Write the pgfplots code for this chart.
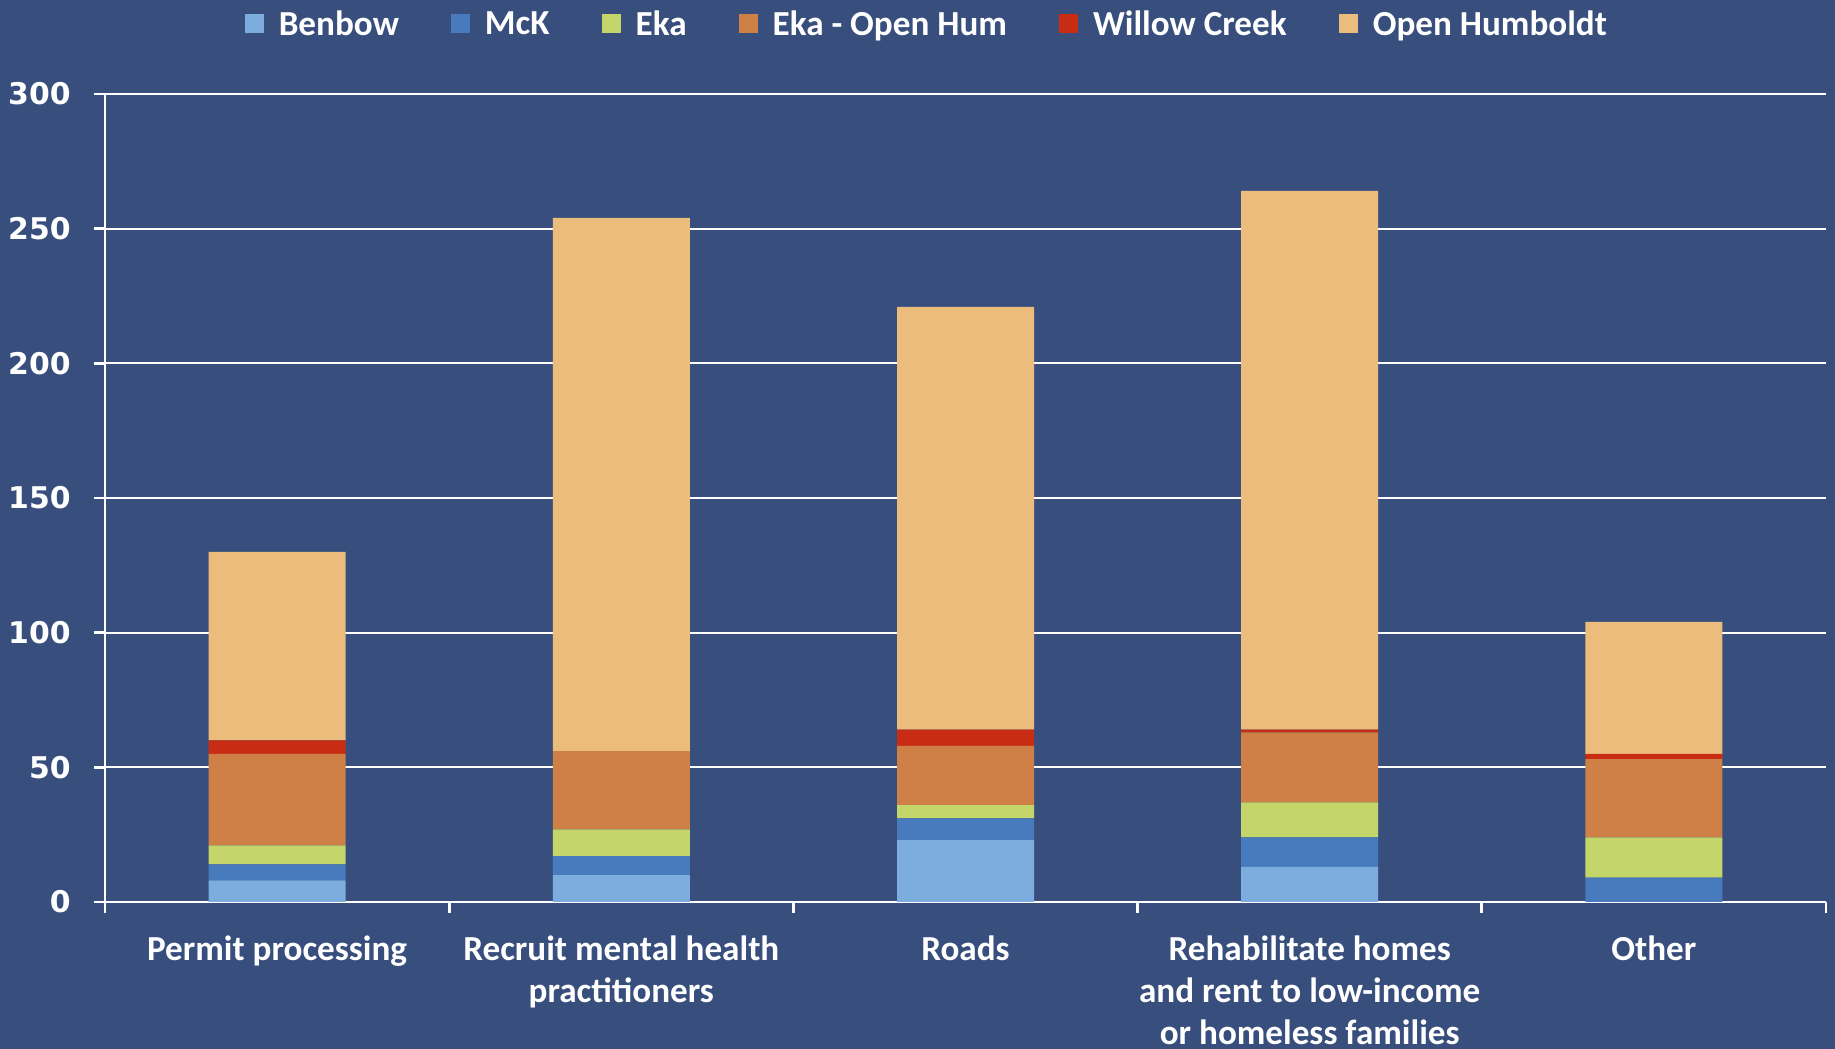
\documentclass[border=0pt]{standalone}
\usepackage{fontspec}
\setmainfont{Carlito}
\newfontfamily\numfont{DejaVu Sans}
\usepackage{pgfplots}
\pgfplotsset{compat=1.18}
\definecolor{bgblue}{RGB}{56,79,126}
\definecolor{benbow}{RGB}{125,172,222}
\definecolor{mck}{RGB}{72,122,190}
\definecolor{eka}{RGB}{196,214,105}
\definecolor{ekaoh}{RGB}{206,128,70}
\definecolor{willow}{RGB}{200,45,20}
\definecolor{openhum}{RGB}{236,188,124}

\begin{document}
\begin{tikzpicture}
\fill[bgblue] (-1.05,-1.47) rectangle (17.30,9.02);
\path[use as bounding box] (-1.05,-1.47) rectangle (17.30,9.02);
\begin{axis}[
    at={(0,0)}, anchor=south west,
    scale only axis,
    width=17.21cm, height=8.08cm,
    ybar stacked,
    bar width=1.37cm,
    xmin=-0.5, xmax=4.5,
    ymin=0, ymax=300,
    ytick={0,50,...,300},
    xtick={0,1,2,3,4},
    xticklabels={Permit processing, {Recruit mental health\\practitioners}, Roads, {Rehabilitate homes\\and rent to low-income\\or homeless families}, Other},
    minor xtick={-0.5,0.5,1.5,2.5,3.5,4.5},
    axis x line=bottom, axis y line=left,
    axis line style={white, line width=0.8pt, -},
    ymajorgrids,
    grid style={white, line width=0.6pt},
    tick align=outside,
    major tick length=0.11cm, minor tick length=0.11cm,
    tick style={white, line width=0.8pt},
    major x tick style={draw=none},
    /pgf/number format/assume math mode=true,
    yticklabel style={font=\numfont\bfseries\fontsize{8.5}{10}\selectfont, text=white, xshift=-0.11cm},
    xticklabel style={font=\bfseries\fontsize{10}{12}\selectfont, text=white, align=center, yshift=-0.1cm},
    legend columns=6,
    legend style={at={(0.479,1.084)}, anchor=center, draw=none, fill=none,
        text=white, font=\bfseries\fontsize{10}{12}\selectfont,
        /tikz/every odd column/.append style={column sep=0.08cm},
        /tikz/every even column/.append style={column sep=0.45cm}},
    legend image code/.code={\fill[#1] (0cm,-0.07cm) rectangle (0.19cm,0.12cm);},
]
\addplot[fill=benbow, draw=none] coordinates {(0,8) (1,10) (2,23) (3,13) (4,0)};
\addplot[fill=mck, draw=none] coordinates {(0,6) (1,7) (2,8) (3,11) (4,9)};
\addplot[fill=eka, draw=none] coordinates {(0,7) (1,10) (2,5) (3,13) (4,15)};
\addplot[fill=ekaoh, draw=none] coordinates {(0,34) (1,29) (2,22) (3,26) (4,29)};
\addplot[fill=willow, draw=none] coordinates {(0,5) (1,0) (2,6) (3,1) (4,2)};
\addplot[fill=openhum, draw=none] coordinates {(0,70) (1,198) (2,157) (3,200) (4,49)};
\legend{Benbow, McK, Eka, Eka - Open Hum, Willow Creek, Open Humboldt}
\end{axis}
\end{tikzpicture}
\end{document}
